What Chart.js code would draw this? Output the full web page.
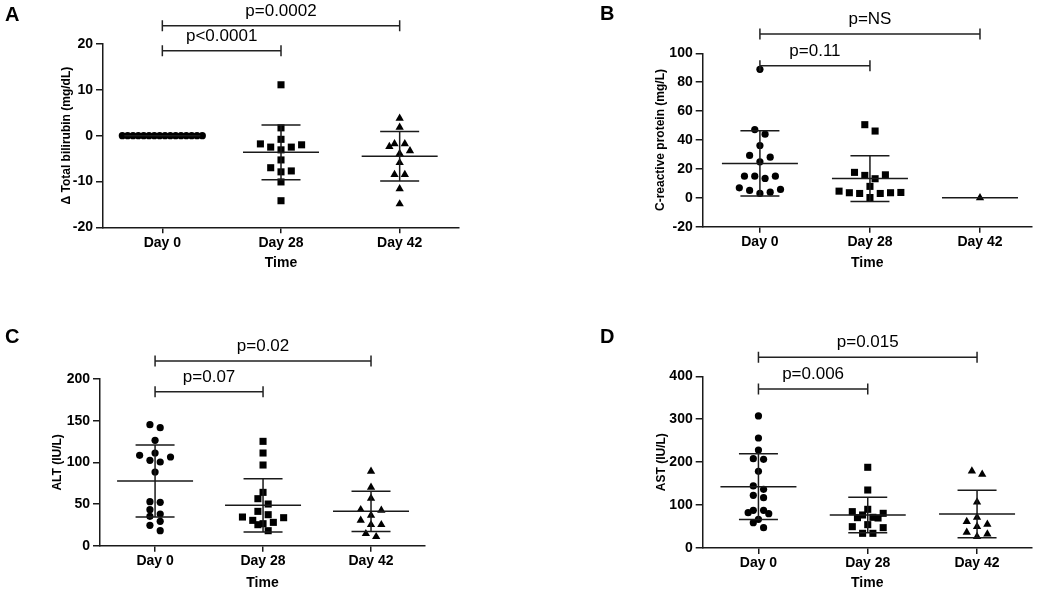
<!DOCTYPE html>
<html>
<head>
<meta charset="utf-8">
<script src="https://cdn.jsdelivr.net/npm/chart.js@4.4.1/dist/chart.umd.min.js"></script>
<style>
  body { margin: 0; background: #fff; }
  #wrap { position: relative; width: 1050px; height: 593px; font-family: "Liberation Sans", Arial, sans-serif; }
  canvas { position: absolute; }
  .lbl { position: absolute; font-weight: bold; font-size: 20px; line-height: 20px; color: #000; }
</style>
</head>
<body>
<div id="wrap">
  <canvas id="cA"></canvas>
  <canvas id="cB"></canvas>
  <canvas id="cC"></canvas>
  <canvas id="cD"></canvas>
  <div class="lbl" style="left:5px;top:4px">A</div>
  <div class="lbl" style="left:600px;top:3px">B</div>
  <div class="lbl" style="left:5px;top:326px">C</div>
  <div class="lbl" style="left:600px;top:326px">D</div>
</div>
<script>
const categories = ['Day 0', 'Day 28', 'Day 42'];
const comparisons = [[0, 1], [0, 2]];

// A - change in total bilirubin
const bilirubinDay0 = [0, 0, 0, 0, 0, 0, 0, 0, 0, 0, 0, 0, 0, 0, 0, 0];
const bilirubinDay28 = [11.1, 1.7, -0.8, -2.0, -2.5, -3.1, -2.5, -1.8, -5.3, -7.0, -7.9, -7.7, -10.1, -14.2];
const bilirubinDay42 = [3.8, 1.8, -1.8, -2.4, -1.8, -3.3, -3.9, -5.9, -8.5, -8.5, -11.6, -14.9];
const bilirubinMean = [0, -3.64, -4.5];
const bilirubinSD = [0, 5.97, 5.4];
const bilirubinTicks = [-20, -10, 0, 10, 20];
const bilirubinP = ['p<0.0001', 'p=0.0002'];

// B - C-reactive protein
const crpDay0 = [88.9, 47.2, 44.0, 36.2, 29.3, 28.1, 24.9, 15.0, 15.0, 13.4, 15.0, 6.9, 5.1, 3.0, 3.9, 5.8];
const crpDay28 = [50.6, 46.2, 17.6, 15.5, 15.9, 13.2, 7.9, 4.6, 3.5, 3.0, 0.2, 3.0, 3.5, 3.7];
const crpDay42 = [0];
const crpMean = [23.8, 13.3, 0];
const crpSD = [22.6, 15.8, 0];
const crpTicks = [-20, 0, 20, 40, 60, 80, 100];
const crpP = ['p=0.11', 'p=NS'];

// C - ALT
const altDay0 = [145.2, 141.6, 126.4, 111.2, 108.4, 106.4, 102.4, 100.4, 88.4, 52.8, 52.0, 43.2, 38.0, 35.2, 29.2, 24.4, 18.0];
const altDay28 = [125.2, 111.2, 96.8, 64.0, 56.4, 50.0, 41.2, 37.2, 34.4, 33.6, 30.4, 28.0, 26.4, 25.2, 18.0];
const altDay42 = [89.2, 70.0, 56.8, 42.4, 43.2, 36.4, 25.2, 25.2, 30.4, 10.8, 14.4];
const altMean = [77.6, 48.4, 41.2];
const altSD = [43.2, 32.0, 24.2];
const altTicks = [0, 50, 100, 150, 200];
const altP = ['p=0.07', 'p=0.02'];

// D - AST
const astDay0 = [307.6, 256.3, 228.3, 208.2, 206.6, 178.6, 144.5, 136.7, 122.7, 117.3, 87.8, 87.8, 82.3, 80.0, 66.8, 59.0, 47.4];
const astDay28 = [188.0, 135.1, 90.1, 84.7, 80.8, 76.9, 71.5, 70.7, 69.9, 54.4, 49.7, 47.4, 34.2, 34.2];
const astDay42 = [179.4, 171.7, 107.2, 71.5, 61.4, 55.1, 49.7, 36.5, 32.6, 26.4];
const astMean = [142.9, 76.9, 79.2];
const astSD = [76.5, 41.2, 55.5];
const astTicks = [0, 100, 200, 300, 400];
const astP = ['p=0.006', 'p=0.015'];

const FONT = "'Liberation Sans', Arial, sans-serif";
const shapes = ['circle', 'rect', 'triangle'];
const radii = [3.6, 5.0, 4.8];

// GraphPad-like rows: close values share a row, spread from the centre out
function swarm(values, center, unit, tol, maxHalf) {
  const sorted = values.slice().sort((a, b) => a - b);
  const rows = [];
  sorted.forEach(v => {
    const row = rows[rows.length - 1];
    if (row && v - row[0] <= tol) row.push(v); else rows.push([v]);
  });
  const pts = [];
  rows.forEach(row => {
    const n = row.length;
    const step = n > 1 ? Math.min(unit, 2 * maxHalf / (n - 1)) : 0;
    row.forEach((v, k) => {
      let off;
      if (n % 2) off = k === 0 ? 0 : (k % 2 ? 1 : -1) * Math.ceil(k / 2);
      else off = (k % 2 ? -1 : 1) * (Math.floor(k / 2) + 0.5);
      pts.push({x: center + off * step, y: v});
    });
  });
  return pts;
}

const bracketPlugin = {
  id: 'brackets',
  afterDraw(chart, args, opts) {
    const {ctx, scales: {x, y}} = chart;
    ctx.save();
    ctx.strokeStyle = '#222';
    ctx.lineWidth = 1.5;
    ctx.fillStyle = '#000';
    ctx.font = '17px ' + FONT;
    ctx.textAlign = 'center';
    ctx.textBaseline = 'middle';
    comparisons.forEach(([a, b], k) => {
      const x1 = x.getPixelForValue(a), x2 = x.getPixelForValue(b);
      const yy = y.getPixelForValue(opts.levels[k]);
      ctx.beginPath();
      ctx.moveTo(x1, yy); ctx.lineTo(x2, yy);
      ctx.moveTo(x1, yy - 5.5); ctx.lineTo(x1, yy + 5.5);
      ctx.moveTo(x2, yy - 5.5); ctx.lineTo(x2, yy + 5.5);
      ctx.stroke();
      ctx.fillText(opts.labels[k], (x1 + x2) / 2, yy - 14.5);
    });
    ctx.restore();
  }
};

function makeChart(p) {
  const [bx, by, bw, bh] = p.box;
  const [al, at, ar, ab] = p.area;
  const canvas = document.getElementById(p.id);
  canvas.style.left = bx + 'px';
  canvas.style.top = by + 'px';
  canvas.width = bw;
  canvas.height = bh;

  const yMin = p.ticks[0], yMax = p.ticks[p.ticks.length - 1];
  const pxX = (ar - al) / (p.xMax - p.xMin);
  const pxY = (ab - at) / (yMax - yMin);
  const meanHalf = 38 / pxX, capHalf = 19.5 / pxX;

  const bars = [];
  p.mean.forEach((m, i) => {
    bars.push({x: i - meanHalf, y: m}, {x: i + meanHalf, y: m}, {x: i, y: null});
    if (p.sd[i] > 0) {
      const hi = m + p.sd[i], lo = m - p.sd[i];
      bars.push({x: i - capHalf, y: hi}, {x: i + capHalf, y: hi}, {x: i, y: null});
      bars.push({x: i, y: hi}, {x: i, y: lo}, {x: i, y: null});
      bars.push({x: i - capHalf, y: lo}, {x: i + capHalf, y: lo}, {x: i, y: null});
    }
  });

  const datasets = [{
    data: bars, showLine: true, spanGaps: false, pointRadius: 0, pointHoverRadius: 0,
    borderColor: '#1a1a1a', borderWidth: 1.5, clip: false
  }];
  p.groups.forEach((vals, i) => {
    datasets.push({
      data: swarm(vals, i, 10.3 / pxX, 7 / pxY, 40 / pxX),
      pointStyle: shapes[i], pointRadius: radii[i], pointHoverRadius: radii[i],
      pointBackgroundColor: '#000', pointBorderColor: '#000', pointBorderWidth: 0,
      showLine: false, clip: false
    });
  });

  new Chart(canvas, {
    type: 'scatter',
    data: {datasets},
    plugins: [bracketPlugin],
    options: {
      responsive: false, animation: false, devicePixelRatio: 1, events: [],
      layout: {padding: {left: 0, top: at - by, right: bx + bw - ar, bottom: 0}},
      plugins: {
        legend: {display: false}, tooltip: {enabled: false},
        brackets: {labels: p.labels, levels: p.levels}
      },
      scales: {
        x: {
          type: 'linear', min: p.xMin, max: p.xMax,
          afterBuildTicks: s => { s.ticks = categories.map((c, i) => ({value: i})); },
          afterFit: s => { s.height = by + bh - ab; },
          ticks: {callback: v => categories[v], color: '#000', padding: 1, maxRotation: 0, autoSkip: false,
            font: {family: FONT, size: 14, weight: 'bold'}},
          grid: {drawOnChartArea: false, tickLength: 6, color: '#1a1a1a', lineWidth: 1.5},
          border: {color: '#1a1a1a', width: 1.5},
          title: {display: true, text: 'Time', color: '#000', font: {family: FONT, size: 14, weight: 'bold'},
            padding: {top: 0, bottom: by + bh - p.timeY - 8.4}}
        },
        y: {
          type: 'linear', min: yMin, max: yMax,
          afterBuildTicks: s => { s.ticks = p.ticks.map(v => ({value: v})); },
          afterFit: s => { s.width = al - bx; },
          ticks: {color: '#000', padding: 3, font: {family: FONT, size: 14, weight: 'bold'}},
          grid: {drawOnChartArea: false, tickLength: 7, color: '#1a1a1a', lineWidth: 1.5},
          border: {color: '#1a1a1a', width: 1.5},
          title: {display: true, text: p.title, color: '#000', font: {family: FONT, size: 12, weight: 'bold'},
            padding: {top: p.titleX - bx - 7.2, bottom: 0}}
        }
      }
    }
  });
}

makeChart({id: 'cA', box: [0, 0, 525, 290], area: [103, 44, 459, 227.3], xMin: -0.5, xMax: 2.5,
  ticks: bilirubinTicks, groups: [bilirubinDay0, bilirubinDay28, bilirubinDay42],
  mean: bilirubinMean, sd: bilirubinSD, labels: bilirubinP, levels: [18.5, 24.0],
  title: 'Δ Total bilirubin (mg/dL)', titleX: 67, timeY: 263.3});

makeChart({id: 'cB', box: [525, 0, 525, 290], area: [702.7, 53.3, 1031.7, 226.7], xMin: -0.52, xMax: 2.47,
  ticks: crpTicks, groups: [crpDay0, crpDay28, crpDay42],
  mean: crpMean, sd: crpSD, labels: crpP, levels: [91.4, 113.4],
  title: 'C-reactive protein (mg/L)', titleX: 661, timeY: 263.3});

makeChart({id: 'cC', box: [0, 290, 525, 303], area: [100, 379, 425, 545.7], xMin: -0.51, xMax: 2.5,
  ticks: altTicks, groups: [altDay0, altDay28, altDay42],
  mean: altMean, sd: altSD, labels: altP, levels: [184.8, 221.6],
  title: 'ALT (IU/L)', titleX: 58, timeY: 582.7});

makeChart({id: 'cD', box: [525, 290, 525, 303], area: [702.7, 376.3, 1031.7, 548], xMin: -0.51, xMax: 2.5,
  ticks: astTicks, groups: [astDay0, astDay28, astDay42],
  mean: astMean, sd: astSD, labels: astP, levels: [370.5, 444.3],
  title: 'AST (IU/L)', titleX: 661.6, timeY: 583.5});
</script>
</body>
</html>
